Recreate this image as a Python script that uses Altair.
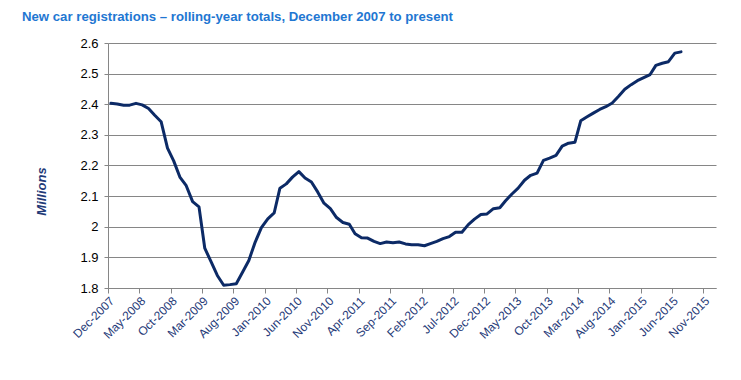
import altair as alt
import pandas as pd

# Rolling-year totals of new car registrations (millions), monthly Dec-2007 .. Jul-2015
values = [2.403, 2.401, 2.397, 2.397, 2.403, 2.398, 2.386, 2.364, 2.343, 2.257,
          2.215, 2.161, 2.134, 2.082, 2.065, 1.930, 1.885, 1.841, 1.809, 1.811,
          1.814, 1.852, 1.890, 1.950, 1.997, 2.026, 2.045, 2.126, 2.140, 2.162,
          2.180, 2.159, 2.146, 2.113, 2.077, 2.059, 2.030, 2.014, 2.008, 1.977,
          1.964, 1.963, 1.952, 1.945, 1.950, 1.948, 1.950, 1.944, 1.941, 1.941,
          1.938, 1.945, 1.952, 1.961, 1.968, 1.982, 1.982, 2.007, 2.025, 2.040,
          2.042, 2.059, 2.062, 2.085, 2.107, 2.126, 2.152, 2.168, 2.175, 2.217,
          2.224, 2.233, 2.263, 2.273, 2.276, 2.346, 2.359, 2.371, 2.383, 2.392,
          2.404, 2.426, 2.449, 2.464, 2.477, 2.487, 2.497, 2.527, 2.534, 2.539,
          2.567, 2.571]

months = pd.date_range(start="2007-12-01", periods=len(values), freq="MS")
dates = [(m + pd.Timedelta(days=14)).strftime("%Y-%m-%d") for m in months]

tick_months = [(2007, 12), (2008, 5), (2008, 10), (2009, 3), (2009, 8), (2010, 1),
               (2010, 6), (2010, 11), (2011, 4), (2011, 9), (2012, 2), (2012, 7),
               (2012, 12), (2013, 5), (2013, 10), (2014, 3), (2014, 8), (2015, 1),
               (2015, 6), (2015, 11)]
y_ticks = [1.8, 1.9, 2.0, 2.1, 2.2, 2.3, 2.4, 2.5, 2.6]

df = pd.DataFrame({"date": dates, "value": values})

title_text = "New car registrations \u2013 rolling-year totals, December 2007 to present"

chart = alt.Chart(df).mark_line(
    color="#0C2A66", strokeWidth=3, strokeJoin="round", strokeCap="round"
).encode(
    x=alt.X(
        "date:T",
        scale=alt.Scale(
            type="utc",
            domain=[alt.DateTime(year=2007, month=12, date=1, utc=True),
                    alt.DateTime(year=2016, month=1, date=1, utc=True)],
        ),
        axis=alt.Axis(
            values=[alt.DateTime(year=y, month=m, date=1, utc=True) for y, m in tick_months],
            labelExpr="utcFormat(datum.value, '%b-%Y')",
            labelAngle=315, labelFontSize=12, labelColor="#1F3A78",
            labelFont="Liberation Sans", labelPadding=2,
            grid=False, domainColor="#868686", tickColor="#868686",
            tickSize=5, title=None, labelOverlap=False,
        ),
    ),
    y=alt.Y(
        "value:Q",
        scale=alt.Scale(domain=[1.8, 2.6], nice=False, zero=False),
        axis=alt.Axis(
            values=y_ticks, format="~g",
            labelFontSize=13, labelColor="#000000", labelFont="Liberation Sans",
            labelPadding=6,
            grid=True, gridColor="#868686", gridWidth=1,
            domainColor="#868686", tickColor="#868686", tickSize=4,
            title="Millions", titleFont="Liberation Sans", titleFontSize=13,
            titleFontStyle="italic", titleFontWeight="bold", titleColor="#1F3A78",
            titleAngle=270, titleX=-67, titleY=148, titleAlign="center",
            titleBaseline="middle",
        ),
    ),
).properties(
    width=608,
    height=245,
    title=alt.TitleParams(
        title_text, anchor="start", frame="group", dx=-86, offset=3,
        baseline="alphabetic",
        font="Liberation Sans", fontSize=13.2, fontWeight="bold", color="#1F77D2",
    ),
    padding={"left": 100, "top": 35, "right": 15, "bottom": 70},
    autosize=alt.AutoSizeParams(type="none"),
).configure_view(stroke=None)

chart.save("out.html", embed_options={"renderer": "svg", "actions": False})
